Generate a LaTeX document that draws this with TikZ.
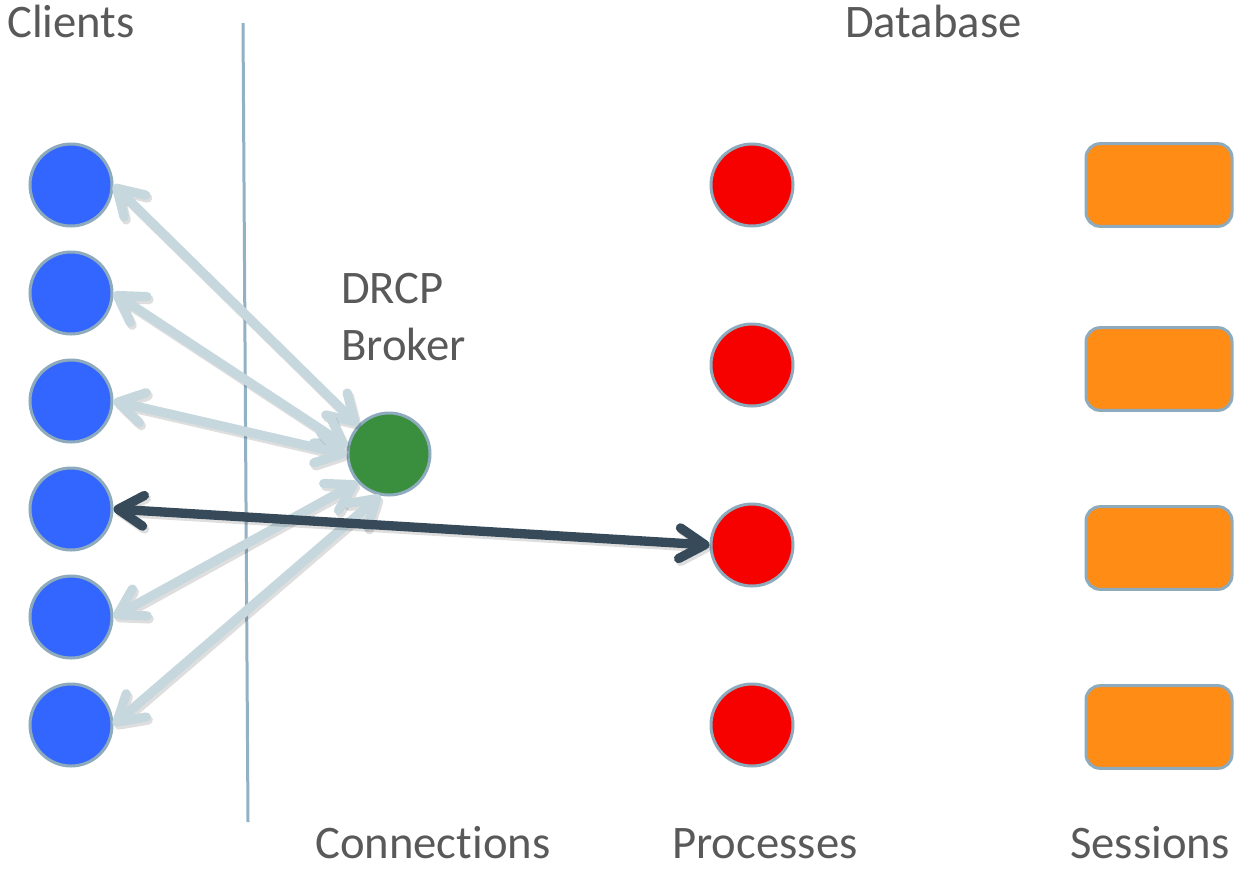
\documentclass[tikz,border=0pt]{standalone}
\usepackage{fontspec}
\setmainfont{Carlito}[Ligatures=NoCommon]
\usetikzlibrary{arrows.meta}
\definecolor{cblue}{HTML}{3366FF}
\definecolor{cgreen}{HTML}{3A8F3E}
\definecolor{cred}{HTML}{F60000}
\definecolor{corange}{HTML}{FF8C14}
\definecolor{cedge}{HTML}{8EAABD}
\definecolor{clight}{HTML}{C6D8DD}
\definecolor{cdark}{HTML}{364A59}
\definecolor{ctext}{HTML}{595959}
\definecolor{cdiv}{HTML}{93B1C4}
\tikzset{
  mybarb/.tip={Straight Barb[length=19pt,width=23pt,round]},
  dot/.style={circle, draw=cedge, line width=2.25pt, minimum size=61.5pt, inner sep=0pt},
  client/.style={dot, fill=cblue},
  broker/.style={dot, fill=cgreen},
  proc/.style={dot, fill=cred},
  sess/.style={rectangle, rounded corners=10.5pt, draw=cedge, line width=2.25pt, fill=corange, minimum width=109.5pt, minimum height=62pt, inner sep=0pt},
  lbl/.style={font=\fontsize{35}{42}\selectfont, text=ctext, inner sep=0pt},
  shadowed/.style={preaction={draw=black, opacity=0.13, line width=7pt, transform canvas={shift={(1.5pt,-2.2pt)}}}},
  lightarrow/.style={line width=7pt, shadowed, draw=clight, line cap=round, {mybarb}-{mybarb}},
  darkarrow/.style={line width=7pt, shadowed, draw=cdark, line cap=round, {mybarb}-{mybarb}},
  divider/.style={draw=cdiv, line width=2.25pt}
}
\begin{document}
\begin{tikzpicture}[x=0.75pt, y=-0.75pt]
\useasboundingbox (0,0) rectangle (1238,869);
% divider
\coordinate (dtop) at (243,23);
\coordinate (dbot) at (248,822);
\draw[divider] (dtop) -- (dbot);
% labels
\node[lbl, anchor=base west] (lclients) at (7,37) {Clients};
\node[lbl, anchor=base west] (ldb) at (845,37) {Database};
\node[lbl, anchor=base west] (ldrcp) at (341,303) {DRCP};
\node[lbl, anchor=base west] (lbroker) at (341,360) {Broker};
\node[lbl, anchor=base west] (lconn) at (315,858) {Connections};
\node[lbl, anchor=base west] (lproc) at (672,858) {Processes};
\node[lbl, anchor=base west] (lsess) at (1070,858) {Sessions};
% clients
\node[client] (c1) at (71,185) {};
\node[client] (c2) at (71,293) {};
\node[client] (c3) at (71,401) {};
\node[client] (c4) at (71,509) {};
\node[client] (c5) at (71,617) {};
\node[client] (c6) at (71,725) {};
% broker
\node[broker] (b) at (389,454) {};
% processes
\node[proc] (p1) at (752,185) {};
\node[proc] (p2) at (752,365) {};
\node[proc] (p3) at (752,545) {};
\node[proc] (p4) at (752,725) {};
% sessions
\node[sess] (s1) at (1159,185) {};
\node[sess] (s2) at (1159,369) {};
\node[sess] (s3) at (1159,548) {};
\node[sess] (s4) at (1159,727) {};
% light arrows (client <-> broker)
\draw[lightarrow] (c1.east) -- (b.137);
\draw[lightarrow] (c2.east) -- (b.170);
\draw[lightarrow] (c3.east) -- (b.181);
\draw[lightarrow] (c5.east) -- (b.222);
\draw[lightarrow] (c6.east) -- (b.258);
% dark arrow (client <-> process)
\draw[darkarrow] (c4.east) -- (p3.west);
\end{tikzpicture}
\end{document}
